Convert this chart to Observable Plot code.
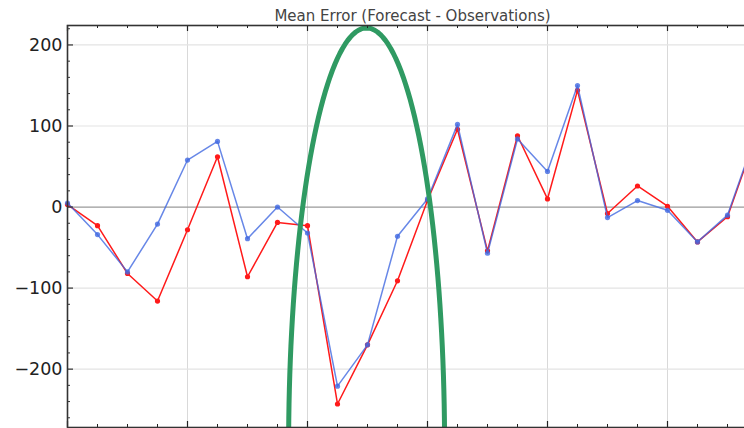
<!DOCTYPE html>
<html>
<head>
<meta charset="utf-8">
<script src="https://cdn.jsdelivr.net/npm/d3@7"></script>
<script src="https://cdn.jsdelivr.net/npm/@observablehq/plot@0.6"></script>
<style>
  html, body { margin: 0; padding: 0; background: #fff; overflow: hidden; }
  #chart { width: 800px; }
  #chart svg { display: block; max-width: none !important; width: 800px; height: 428px; }
</style>
</head>
<body>
<div id="chart"></div>
<script>
// Forecast steps (one point per step)
const steps = [0, 1, 2, 3, 4, 5, 6, 7, 8, 9, 10, 11, 12, 13, 14, 15, 16, 17, 18, 19, 20, 21, 22, 23];

// Mean error of the two forecast runs
const errorRed  = [3, -23, -82, -116, -28, 62, -86, -19, -23, -243, -170, -91, 8, 96, -54, 88, 10, 144, -8, 26, 1, -43, -12, 93];
const errorBlue = [5, -34, -80, -21, 58, 81, -39, 0, -32, -221, -170, -36, 10, 102, -57, 84, 44, 150, -13, 8, -4, -43, -10, 95];

// Axis ticks
const yMajorTicks = [-200, -100, 0, 100, 200];
const yMinorTicks = [-260, -240, -220, -180, -160, -140, -120, -80, -60, -40, -20, 20, 40, 60, 80, 120, 140, 160, 180, 220];
const xMajorTicks = [0, 4, 8, 12, 16, 20];
const xMinorTicks = [1, 2, 3, 5, 6, 7, 9, 10, 11, 13, 14, 15, 17, 18, 19, 21, 22, 23];

const title = "Mean Error (Forecast - Observations)";

// Highlight ellipse around the large dip (centre and radii in data units)
const highlight = {cx: 9.97, cy: -297, rx: 2.6, ry: 518};
const ellipsePts = d3.range(0, 361, 2).map(a => {
  const t = a * Math.PI / 180;
  return {x: highlight.cx + highlight.rx * Math.cos(t), y: highlight.cy + highlight.ry * Math.sin(t)};
});

const red = steps.map((s, i) => ({step: s, value: errorRed[i]}));
const blue = steps.map((s, i) => ({step: s, value: errorBlue[i]}));

const W = 800, H = 428;
const mL = 67, mR = 43, mT = 25, mB = 1;
const frameW = W - mL - mR, frameH = H - mT - mB;
const font = "DejaVu Sans, sans-serif";

const chart = Plot.plot({
  width: W,
  height: H,
  marginLeft: mL,
  marginRight: mR,
  marginTop: mT,
  marginBottom: mB,
  style: {fontFamily: font, background: "#fff", overflow: "visible", maxWidth: "none"},
  x: {domain: [0, 23], axis: null},
  y: {domain: [-272, 224], axis: null},
  marks: [
    Plot.gridX(xMajorTicks.slice(1), {stroke: "#d9d9d9", strokeOpacity: 1, strokeWidth: 1}),
    Plot.gridY(yMajorTicks.filter(d => d !== 0), {stroke: "#e3e3e3", strokeOpacity: 1, strokeWidth: 1.2}),
    Plot.ruleY([0], {stroke: "#9a9a9a", strokeWidth: 1.3}),
    Plot.line(red, {x: "step", y: "value", stroke: "#ff1a1a", strokeWidth: 1.5}),
    Plot.dot(red, {x: "step", y: "value", r: 2.6, fill: "#ff1a1a"}),
    Plot.line(blue, {x: "step", y: "value", stroke: "#4169e1", strokeOpacity: 0.8, strokeWidth: 1.5}),
    Plot.dot(blue, {x: "step", y: "value", r: 2.6, fill: "#4169e1", fillOpacity: 0.8}),
    Plot.line(ellipsePts, {x: "x", y: "y", curve: "linear-closed", stroke: "#2f9a62", strokeWidth: 5}),
    // inward ticks on left, top and bottom spines
    Plot.tickY(yMajorTicks, {stroke: "#333", strokeWidth: 1.2, insetRight: frameW - 6}),
    Plot.tickY(yMinorTicks, {stroke: "#333", strokeWidth: 1, insetRight: frameW - 3}),
    Plot.tickX(xMajorTicks, {stroke: "#222", strokeWidth: 1.2, insetBottom: frameH - 6}),
    Plot.tickX(xMinorTicks, {stroke: "#222", strokeWidth: 1, insetBottom: frameH - 3}),
    Plot.tickX(xMajorTicks, {stroke: "#222", strokeWidth: 1.2, insetTop: frameH - 6}),
    Plot.tickX(xMinorTicks, {stroke: "#222", strokeWidth: 1, insetTop: frameH - 3}),
    Plot.frame({stroke: "#333", strokeWidth: 1.6}),
    Plot.axisY(yMajorTicks, {
      anchor: "left", tickSize: 0, tickPadding: 5,
      tickFormat: d3.format("d"), fontSize: 17.5, fill: "#222"
    }),
    Plot.text([title], {frameAnchor: "top", lineAnchor: "bottom", dy: -5, fontSize: 15, fill: "#444"})
  ]
});

document.getElementById("chart").appendChild(chart);
</script>
</body>
</html>
